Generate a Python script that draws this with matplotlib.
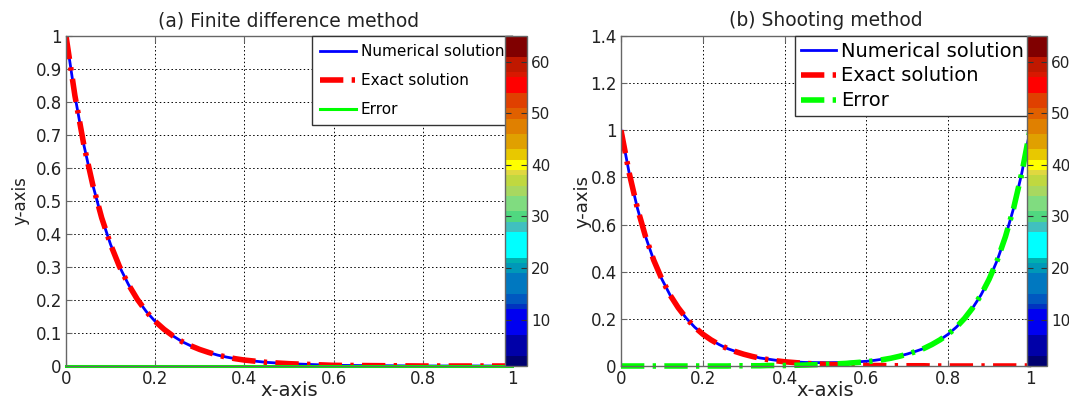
import numpy as np
import matplotlib
matplotlib.use('Agg')
import matplotlib.pyplot as plt
from matplotlib.colors import ListedColormap, Normalize
from matplotlib.cm import ScalarMappable

# (a) finite difference: grid points and values
x_fd = [0.00, 0.02, 0.04, 0.06, 0.08, 0.10, 0.12, 0.14, 0.16, 0.18, 0.20,
        0.22, 0.24, 0.26, 0.28, 0.30, 0.32, 0.34, 0.36, 0.38, 0.40,
        0.45, 0.50, 0.60, 0.70, 0.80, 0.90, 1.00]
num_fd = [1.000, 0.819, 0.670, 0.549, 0.449, 0.368, 0.301, 0.247, 0.202, 0.165, 0.135,
          0.111, 0.091, 0.074, 0.061, 0.050, 0.041, 0.033, 0.027, 0.022, 0.018,
          0.011, 0.007, 0.002, 0.001, 0.000, 0.000, 0.000]
exact_fd = [1.000, 0.819, 0.670, 0.549, 0.449, 0.368, 0.301, 0.247, 0.202, 0.165, 0.135,
            0.111, 0.091, 0.074, 0.061, 0.050, 0.041, 0.033, 0.027, 0.022, 0.018,
            0.011, 0.007, 0.002, 0.001, 0.000, 0.000, 0.000]
err_fd = [0.000, 0.000, 0.000, 0.000, 0.000, 0.000, 0.000, 0.000, 0.000, 0.000, 0.000,
          0.000, 0.000, 0.000, 0.000, 0.000, 0.000, 0.000, 0.000, 0.000, 0.000,
          0.000, 0.000, 0.000, 0.000, 0.000, 0.000, 0.000]

# (b) shooting method
x_sh = [0.00, 0.02, 0.04, 0.06, 0.08, 0.10, 0.12, 0.14, 0.16, 0.18, 0.20,
        0.22, 0.24, 0.26, 0.28, 0.30, 0.32, 0.34, 0.36, 0.38, 0.40,
        0.45, 0.50, 0.55, 0.60,
        0.62, 0.64, 0.66, 0.68, 0.70, 0.72, 0.74, 0.76, 0.78, 0.80,
        0.82, 0.84, 0.86, 0.88, 0.90, 0.92, 0.94, 0.96, 0.98, 1.00]
num_sh = [1.000, 0.819, 0.670, 0.549, 0.449, 0.368, 0.301, 0.247, 0.202, 0.165, 0.135,
          0.111, 0.091, 0.074, 0.062, 0.051, 0.042, 0.034, 0.029, 0.024, 0.020,
          0.015, 0.014, 0.015, 0.020,
          0.024, 0.029, 0.034, 0.042, 0.051, 0.062, 0.074, 0.091, 0.111, 0.135,
          0.165, 0.202, 0.247, 0.301, 0.368, 0.449, 0.549, 0.670, 0.819, 1.000]
exact_sh = [1.000, 0.819, 0.670, 0.549, 0.449, 0.368, 0.301, 0.247, 0.202, 0.165, 0.135,
            0.111, 0.091, 0.074, 0.061, 0.050, 0.041, 0.033, 0.027, 0.022, 0.018,
            0.011, 0.007, 0.004, 0.002,
            0.002, 0.002, 0.001, 0.001, 0.001, 0.001, 0.001, 0.000, 0.000, 0.000,
            0.000, 0.000, 0.000, 0.000, 0.000, 0.000, 0.000, 0.000, 0.000, 0.000]
err_sh = [0.000, 0.000, 0.000, 0.000, 0.000, 0.000, 0.000, 0.000, 0.000, 0.000, 0.000,
          0.000, 0.000, 0.000, 0.001, 0.001, 0.001, 0.001, 0.002, 0.002, 0.002,
          0.004, 0.007, 0.011, 0.018,
          0.022, 0.027, 0.033, 0.041, 0.050, 0.061, 0.074, 0.091, 0.111, 0.135,
          0.165, 0.202, 0.247, 0.301, 0.368, 0.449, 0.549, 0.670, 0.819, 1.000]

labels = ['Numerical solution', 'Exact solution', 'Error']
cbar_ticks = [10, 20, 30, 40, 50, 60]

# 64-level jet-like colour map, built from bands (colour, number of levels)
bands = [('#000070', 2), ('#0000a8', 4), ('#0000f0', 5), ('#0033c0', 1),
         ('#0058c0', 2), ('#0078c0', 4), ('#0098b8', 2), ('#00b0b0', 1),
         ('#00ffff', 5), ('#40c0c0', 2), ('#50d880', 2), ('#80dc80', 3),
         ('#a8d860', 2), ('#c0d840', 2), ('#e0d840', 1), ('#ffff00', 2),
         ('#e8c800', 2), ('#e0a000', 3), ('#e08000', 3), ('#e06000', 2),
         ('#e04000', 3), ('#ff0000', 3), ('#d81800', 1), ('#c01800', 3),
         ('#800000', 4)]
cols = []
for c, n in bands:
    cols += [c] * n
cmap = ListedColormap(cols)

dashdot = (0, (4.2, 1.5, 0.6, 1.5))
W, H = 1069, 404


def px_box(l, r, t, b):
    return [l / W, (H - b) / H, (r - l) / W, (b - t) / H]


def style_axes(ax, yticks, ylim, ylab_x, ylab_size):
    ax.set_xlim(0, 1)
    ax.set_ylim(*ylim)
    ax.set_xticks([0, 0.2, 0.4, 0.6, 0.8, 1])
    ax.set_xticklabels(['0', '0.2', '0.4', '0.6', '0.8', '1'])
    ax.set_yticks(yticks)
    ax.set_yticklabels(['%g' % v for v in yticks])
    ax.grid(True, color='black', linestyle=(0, (1.5, 2.5)), linewidth=0.7)
    for s in ax.spines.values():
        s.set_color('#666666')
        s.set_linewidth(1.0)
    ax.tick_params(direction='in', length=4, color='#666666', labelsize=12,
                   labelcolor='#222222', top=True, right=True, pad=3)
    ax.set_xlabel('x-axis', fontsize=14, color='#222222')
    ax.xaxis.set_label_coords(0.5, -0.045)
    ax.set_ylabel('y-axis', fontsize=ylab_size, color='#222222')
    ax.yaxis.set_label_coords(ylab_x, 0.5)


def add_cbar(fig, box):
    cax = fig.add_axes(box)
    sm = ScalarMappable(norm=Normalize(1, 65), cmap=cmap)
    cb = fig.colorbar(sm, cax=cax, ticks=cbar_ticks)
    cb.outline.set_edgecolor('#666666')
    cb.outline.set_linewidth(1.0)
    cax.tick_params(direction='in', length=4, color='#333333', labelsize=11,
                    labelcolor='#222222', left=True, right=True, pad=3)
    return cb


fig = plt.figure(figsize=(W / 100, H / 100), dpi=100)

# (a) finite difference method
ax1 = fig.add_axes(px_box(66, 512, 36, 366))
ax1.plot(x_fd, num_fd, color='blue', lw=2.0, label=labels[0])
ax1.plot(x_fd, exact_fd, color='red', lw=4.0, linestyle=dashdot, label=labels[1])
ax1.plot(x_fd, err_fd, color='#00ff00', lw=2.2, label=labels[2], clip_on=False)
style_axes(ax1, np.round(np.arange(0, 1.01, 0.1), 1), (0, 1), -0.083, 12)
ax1.set_title('(a) Finite difference method', fontsize=13.5, color='#222222', pad=7)
leg = ax1.legend(loc='upper right', bbox_to_anchor=(1, 1), borderaxespad=0,
                 fontsize=11, fancybox=False, framealpha=1, edgecolor='#333333',
                 borderpad=0.52, labelspacing=0.92, handlelength=2.35,
                 handletextpad=0.33)
leg.get_frame().set_linewidth(1.0)
add_cbar(fig, px_box(505, 527, 36, 366))

# (b) shooting method
ax2 = fig.add_axes(px_box(621, 1030, 36, 366))
ax2.plot(x_sh, num_sh, color='blue', lw=2.0, label=labels[0])
ax2.plot(x_sh, exact_sh, color='red', lw=4.0, linestyle=dashdot, label=labels[1])
ax2.plot(x_sh, err_sh, color='#00ff00', lw=4.0, linestyle=dashdot, label=labels[2],
         clip_on=False)
style_axes(ax2, np.round(np.arange(0, 1.41, 0.2), 1), (0, 1.4), -0.071, 13)
ax2.set_title('(b) Shooting method', fontsize=13.5, color='#222222', pad=7)
leg = ax2.legend(loc='upper right', bbox_to_anchor=(1, 1), borderaxespad=0,
                 fontsize=14, fancybox=False, framealpha=1, edgecolor='#333333',
                 borderpad=0.29, labelspacing=0.3, handlelength=1.8,
                 handletextpad=0.3)
leg.get_frame().set_linewidth(1.0)
add_cbar(fig, px_box(1027, 1047, 36, 366))

fig.savefig('out.png', dpi=100)
